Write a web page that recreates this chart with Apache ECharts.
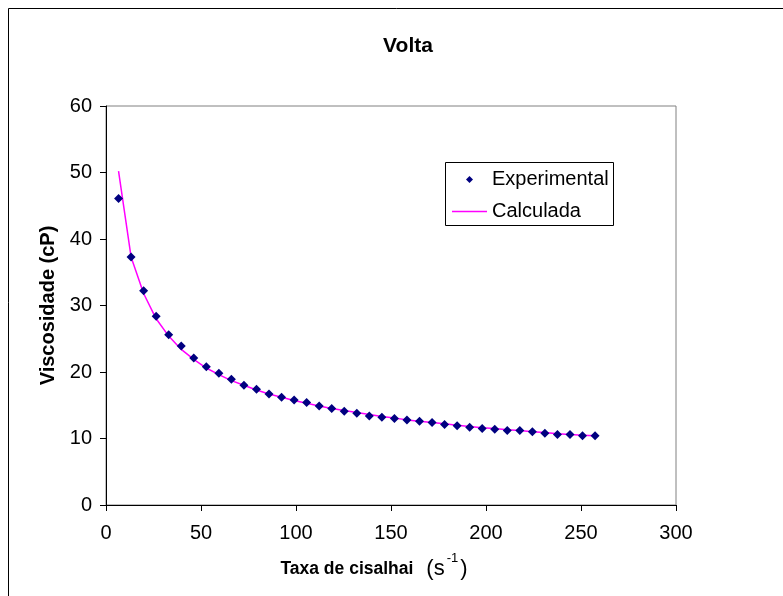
<!DOCTYPE html>
<html>
<head>
<meta charset="utf-8">
<script src="https://cdn.jsdelivr.net/npm/echarts@6/dist/echarts.min.js"></script>
<style>
html,body{margin:0;padding:0;background:#fff;}
#chart{width:783px;height:596px;}
</style>
</head>
<body>
<div id="chart"></div>
<script>
// Shear rate (s^-1)
const shearRate = [6.6, 13.2, 19.8, 26.4, 33.0, 39.6, 46.2, 52.8, 59.4, 66.0,
  72.6, 79.2, 85.8, 92.4, 99.0, 105.6, 112.2, 118.8, 125.4, 132.0,
  138.6, 145.2, 151.8, 158.4, 165.0, 171.6, 178.2, 184.8, 191.4, 198.0,
  204.6, 211.2, 217.8, 224.4, 231.0, 237.6, 244.2, 250.8, 257.4];
// Experimental viscosity (cP)
const experimental = [46.1, 37.3, 32.2, 28.4, 25.6, 23.9, 22.1, 20.8, 19.8, 18.9,
  18.0, 17.4, 16.7, 16.2, 15.8, 15.4, 14.9, 14.5, 14.1, 13.8,
  13.4, 13.2, 13.0, 12.8, 12.6, 12.4, 12.1, 11.9, 11.7, 11.5,
  11.4, 11.2, 11.2, 11.0, 10.8, 10.6, 10.6, 10.4, 10.4];
// Calculated viscosity (cP)
const calculated = [50.2, 37.3, 31.8, 28.0, 25.4, 23.4, 21.9, 20.6, 19.6, 18.7,
  18.0, 17.3, 16.7, 16.2, 15.7, 15.3, 14.9, 14.5, 14.2, 13.9,
  13.6, 13.3, 13.1, 12.8, 12.6, 12.4, 12.2, 12.0, 11.8, 11.6,
  11.5, 11.3, 11.2, 11.0, 10.9, 10.7, 10.6, 10.5, 10.4];
const seriesNames = ['Experimental', 'Calculada'];
const titleText = 'Volta';
const xAxisTitle = 'Taxa de cisalhai';
const yAxisTitle = 'Viscosidade (cP)';

const chart = echarts.init(document.getElementById('chart'), null, {renderer: 'canvas'});
const font = 'Liberation Sans, Arial, sans-serif';

const option = {
  animation: false,
  backgroundColor: '#ffffff',
  textStyle: {fontFamily: font},
  title: {
    text: titleText,
    left: 403,
    textAlign: 'center',
    top: 31,
    textStyle: {fontFamily: font, fontWeight: 'bold', fontSize: 21, color: '#000'}
  },
  graphic: [
    {type: 'rect', shape: {x: 8.5, y: 8.5, width: 800, height: 620}, style: {fill: null, stroke: '#000', lineWidth: 1}, silent: true},
    {type: 'rect', shape: {x: 445.5, y: 162.5, width: 168, height: 63}, style: {fill: null, stroke: '#000', lineWidth: 1}, z: 10, silent: true}
  ],
  legend: {
    orient: 'vertical',
    left: 452,
    top: 169,
    itemWidth: 35,
    itemHeight: 7,
    itemGap: 11,
    padding: 0,
    symbolKeepAspect: true,
    textStyle: {fontFamily: font, fontSize: 20, color: '#000', lineHeight: 21},
    data: [
      {name: seriesNames[0], icon: 'path://M0,-1L1,0L0,1L-1,0Z', itemStyle: {color: '#000080'}},
      {name: seriesNames[1], icon: 'path://M0,0H35V1.4H0Z', itemStyle: {color: '#ff00ff'}}
    ]
  },
  grid: {
    left: 106, right: 107, top: 106, bottom: 91,
    show: true, borderColor: '#808080', borderWidth: 1, backgroundColor: '#fff'
  },
  xAxis: {
    type: 'value',
    min: 0, max: 300, interval: 50,
    name: '{b|' + xAxisTitle + '}{g|}{r|(s}{sup|-1}{r|)}',
    nameLocation: 'middle',
    nameGap: 47,
    nameTextStyle: {
      padding: [0, 34, 0, 0],
      rich: {
        b: {fontFamily: font, fontWeight: 'bold', fontSize: 17.5, color: '#000', lineHeight: 28, verticalAlign: 'bottom', padding: [0,0,2,0]},
        g: {width: 13},
        r: {fontFamily: font, fontSize: 22, color: '#000', lineHeight: 28, verticalAlign: 'bottom'},
        sup: {fontFamily: font, fontSize: 13, color: '#000', lineHeight: 28, verticalAlign: 'top', padding: [0, 2, 0, 2]}
      }
    },
    axisLine: {show: true, lineStyle: {color: '#000', width: 1}},
    axisTick: {show: true, inside: false, length: 6, lineStyle: {color: '#000'}},
    axisLabel: {fontFamily: font, fontSize: 20, color: '#000', margin: 18},
    splitLine: {show: false}
  },
  yAxis: {
    type: 'value',
    min: 0, max: 60, interval: 10,
    name: yAxisTitle,
    nameLocation: 'middle',
    nameGap: 48,
    nameRotate: 90,
    nameTextStyle: {fontFamily: font, fontWeight: 'bold', fontSize: 20, color: '#000'},
    axisLine: {show: true, lineStyle: {color: '#000', width: 1}},
    axisTick: {show: true, inside: false, length: 6, lineStyle: {color: '#000'}},
    axisLabel: {fontFamily: font, fontSize: 20, color: '#000', margin: 14},
    splitLine: {show: false}
  },
  series: [
    {
      name: seriesNames[1],
      type: 'line',
      data: shearRate.map((x, i) => [x, calculated[i]]),
      symbol: 'none',
      smooth: false,
      lineStyle: {color: '#ff00ff', width: 1.5},
      itemStyle: {color: '#ff00ff'},
      z: 2
    },
    {
      name: seriesNames[0],
      type: 'scatter',
      data: shearRate.map((x, i) => [x, experimental[i]]),
      symbol: 'diamond',
      symbolSize: 9,
      itemStyle: {color: '#000080', opacity: 1},
      z: 3
    }
  ]
};
chart.setOption(option);
</script>
</body>
</html>
